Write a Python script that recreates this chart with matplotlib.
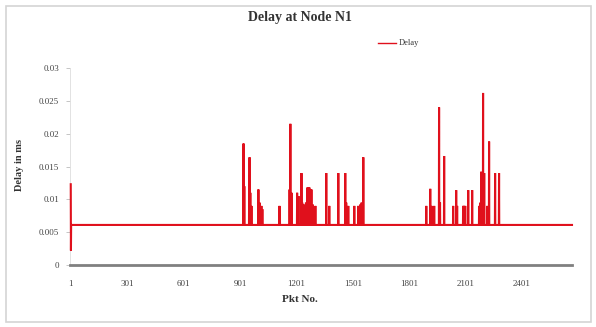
import numpy as np
import matplotlib.pyplot as plt
from matplotlib.patches import Rectangle
from matplotlib.lines import Line2D

# Packet delay trace at node N1
n_packets = 2667
baseline_delay = 0.0061

# First packets: startup transient
start_pkt = [1, 2, 3]
start_delay = [0.0123, 0.0022, 0.0061]

# Packets with elevated delay
spike_pkt = [920, 924, 950, 952, 956, 962, 999, 1005, 1015, 1020, 1111, 1113,
             1165, 1169, 1175, 1205, 1212, 1228, 1232, 1240, 1252, 1260, 1266,
             1270, 1276, 1281, 1288, 1302, 1360, 1376, 1424, 1461, 1466, 1477,
             1509, 1530, 1536, 1541, 1548, 1557,
             1892, 1913, 1920, 1934, 1960, 1965, 1987, 2035, 2051, 2056, 2088,
             2092, 2099, 2115, 2136, 2173, 2180, 2184, 2188, 2194, 2200, 2216,
             2226, 2258, 2279]
spike_delay = [0.0185, 0.0120, 0.0137, 0.0164, 0.0110, 0.0090, 0.0115, 0.0095,
               0.0090, 0.0085, 0.0090, 0.0088,
               0.0115, 0.0215, 0.0110, 0.0110, 0.0105, 0.0140, 0.0095, 0.0092,
               0.0095, 0.0118, 0.0095, 0.0118, 0.0092, 0.0115, 0.0092, 0.0090,
               0.0140, 0.0090, 0.0140, 0.0140, 0.0095, 0.0090, 0.0090, 0.0090,
               0.0088, 0.0092, 0.0095, 0.0164,
               0.0090, 0.0116, 0.0090, 0.0090, 0.0240, 0.0095, 0.0166, 0.0090,
               0.0114, 0.0090, 0.0090, 0.0090, 0.0090, 0.0114, 0.0114, 0.0090,
               0.0095, 0.0142, 0.0120, 0.0262, 0.0140, 0.0090, 0.0188, 0.0140,
               0.0140]

y_ticks = [0, 0.005, 0.01, 0.015, 0.02, 0.025, 0.03]
y_tick_labels = ["0", "0.005", "0.01", "0.015", "0.02", "0.025", "0.03"]
x_ticks = [1, 301, 601, 901, 1201, 1501, 1801, 2101, 2401]

pkt = np.arange(1, n_packets + 1)
delay = np.full(n_packets, baseline_delay)
delay[np.array(start_pkt) - 1] = start_delay
delay[np.array(spike_pkt) - 1] = spike_delay

serif = ["Liberation Serif", "DejaVu Serif"]
plt.rcParams["font.family"] = serif

fig = plt.figure(figsize=(5.96, 3.27), dpi=100)
fig.patch.set_facecolor("white")
fig.add_artist(Rectangle((6 / 596, 1 - 322 / 327), 585 / 596, 316 / 327,
                         transform=fig.transFigure, fill=False,
                         edgecolor="#d4d4d4", linewidth=1.2))

ax = fig.add_axes([70 / 596, 1 - 265 / 327, 502 / 596, 197 / 327])
ax.plot(pkt, delay, color="#e0101c", linewidth=1.5, solid_joinstyle="miter",
        zorder=3, clip_on=False)

ax.set_xlim(-3, n_packets)
ax.set_ylim(0, 0.03)
ax.set_yticks(y_ticks)
ax.set_yticklabels(y_tick_labels, fontsize=6.5, color="#444444")
ax.set_xticks(x_ticks)
ax.set_xticklabels([str(t) for t in x_ticks], fontsize=6.5, color="#444444")
ax.tick_params(axis="x", length=0, pad=11)
ax.tick_params(axis="y", length=3, width=0.6, color="#bbbbbb", pad=5)

for side in ["top", "right"]:
    ax.spines[side].set_visible(False)
ax.spines["left"].set_color("#dddddd")
ax.spines["left"].set_linewidth(0.6)
ax.spines["bottom"].set_color("#808080")
ax.spines["bottom"].set_linewidth(2.0)

fig.text(300 / 596, 1 - 18 / 327, "Delay at Node N1", ha="center", va="center",
         fontsize=10, fontweight="bold", color="#333333")
fig.text(300 / 596, 1 - 300 / 327, "Pkt No.", ha="center", va="center",
         fontsize=8, fontweight="bold", color="#333333")
fig.text(20 / 596, 1 - 165 / 327, "Delay in ms", ha="center", va="center",
         rotation=90, fontsize=7.5, fontweight="bold", color="#333333")

fig.add_artist(Line2D([378 / 596, 396 / 596], [1 - 43 / 327, 1 - 43 / 327],
                      transform=fig.transFigure, color="#e0101c", linewidth=1.0))
fig.text(399 / 596, 1 - 43 / 327, "Delay", ha="left", va="center",
         fontsize=6, color="#333333")

fig.savefig("out.png", dpi=100, facecolor="white")
